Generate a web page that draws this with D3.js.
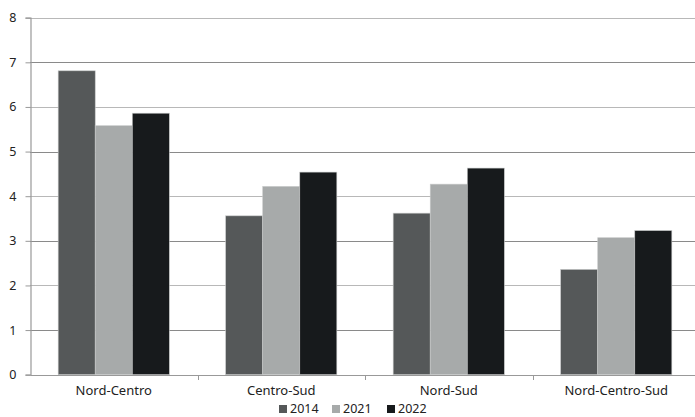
<!DOCTYPE html>
<html><head><meta charset="utf-8">
<script src="https://cdn.jsdelivr.net/npm/d3@7"></script>
<style>body{margin:0;background:#fff}svg{display:block}text{font-family:"Noto Sans",sans-serif;fill:#222}</style>
</head><body><svg id="c" width="695" height="417"></svg>
<script>
const categories = ["Nord-Centro","Centro-Sud","Nord-Sud","Nord-Centro-Sud"];
const seriesNames = ["2014","2021","2022"];
const v2014 = [6.81, 3.56, 3.62, 2.36];
const v2021 = [5.58, 4.22, 4.27, 3.07];
const v2022 = [5.86, 4.54, 4.63, 3.23];
const yTicks = [0,1,2,3,4,5,6,7,8];
const colors = ["#555859","#a7aaaa","#171a1c"];
const series = [v2014, v2021, v2022];

const svg = d3.select("#c");
const x = d3.scaleBand().domain(categories).range([30, 700]).paddingInner(0).paddingOuter(0);
const xs = d3.scaleBand().domain(seriesNames).range([0, x.bandwidth()]).paddingInner(0).paddingOuter(0.76);
const y = d3.scaleLinear().domain([0, 8]).range([374.7, 17.7]);

// gridlines
svg.append("g").selectAll("line").data(yTicks.filter(d=>d>0)).join("line")
  .attr("x1", 30).attr("x2", 700)
  .attr("y1", d=>Math.round(y(d))+0.5).attr("y2", d=>Math.round(y(d))+0.5)
  .attr("stroke", d=> d%2 ? "#8a8a8a" : "#b8b8b8").attr("stroke-width", 1.2);

// bars
const g = svg.append("g");
categories.forEach((c, i) => {
  series.forEach((s, j) => {
    g.append("rect")
      .attr("x", x(c) + xs(seriesNames[j]))
      .attr("y", y(s[i]))
      .attr("width", xs.bandwidth())
      .attr("height", y(0) - y(s[i]))
      .attr("fill", colors[j])
      .attr("stroke", "#c8caca").attr("stroke-width", 0.6);
  });
});

// y axis
const ya = d3.axisLeft(y).tickValues(yTicks).tickSize(5).tickPadding(9).tickFormat(d3.format("d"));
svg.append("g").attr("transform","translate(30.5,0)").call(ya)
  .call(s=>s.select(".domain").attr("stroke","#999").attr("stroke-width",1.2))
  .call(s=>s.selectAll(".tick line").attr("stroke","#999"))
  .call(s=>s.selectAll("text").attr("font-size",12.5).style("font-family","Noto Sans").attr("fill","#222"));

// x axis
const xa = d3.axisBottom(x).tickSize(0).tickPadding(11);
const xg = svg.append("g").attr("transform","translate(0,375)").call(xa);
xg.select(".domain").attr("stroke","#999").attr("stroke-width",1.2);
xg.selectAll("text").attr("font-size",13).style("font-family","Noto Sans").attr("fill","#222");
// boundary ticks
xg.append("g").selectAll("line").data(categories.slice(1)).join("line")
  .attr("x1", d=>Math.round(x(d))+0.5).attr("x2", d=>Math.round(x(d))+0.5)
  .attr("y1", 0).attr("y2", 5).attr("stroke","#999");

// legend
const leg = svg.append("g").attr("transform","translate(279,402)");
const lx = [0, 53, 108];
seriesNames.forEach((n, j) => {
  leg.append("rect").attr("x", lx[j]).attr("y", 3).attr("width", 8).attr("height", 8).attr("fill", colors[j]);
  leg.append("text").attr("x", lx[j]+11).attr("y", 11).attr("font-size", 12.5).text(n);
});
</script></body></html>
